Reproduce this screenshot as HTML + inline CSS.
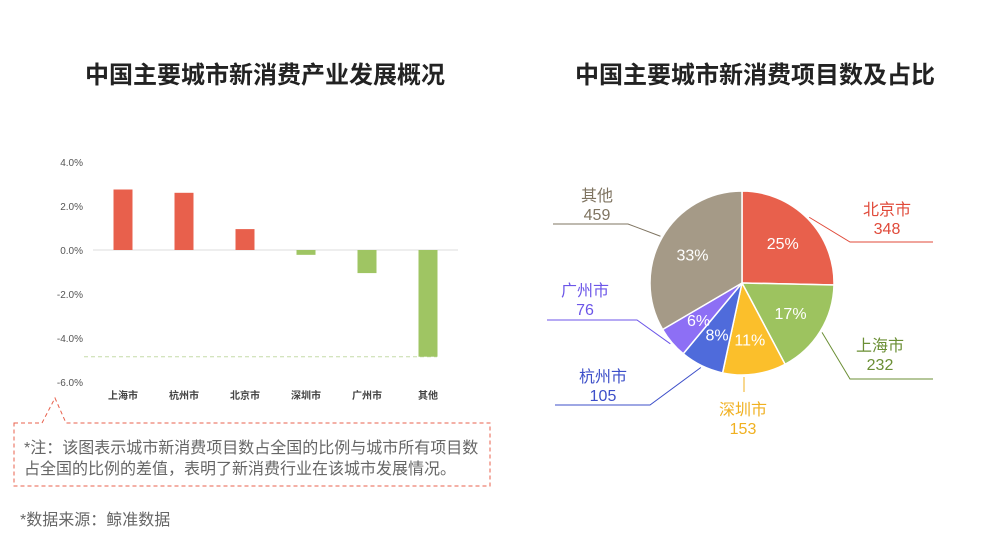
<!DOCTYPE html>
<html><head><meta charset="utf-8"><style>
body{margin:0;background:#fff;font-family:"Liberation Sans","Noto Sans CJK SC",sans-serif;}
#wrap{position:relative;width:1000px;height:543px;overflow:hidden;}
svg{position:absolute;left:0;top:0;}
</style></head><body>
<div id="wrap">
<svg id="s" width="1000" height="543">
<text x="265" y="83" text-anchor="middle" font-size="24" font-weight="bold" fill="#222">中国主要城市新消费产业发展概况</text>
<text x="755" y="83" text-anchor="middle" font-size="24" font-weight="bold" fill="#222">中国主要城市新消费项目数及占比</text>
<g id="bars"></g>
<g id="pie"></g>
<path d="M14 423 H42 L55 398 L66 423 H490 V486 H14 Z" fill="none" stroke="#e8604c" stroke-dasharray="4,3" stroke-width="1"/>
<text x="24" y="453" font-size="16" fill="#666">*注：该图表示城市新消费项目数占全国的比例与城市所有项目数</text>
<text x="24" y="474" font-size="16" fill="#666">占全国的比例的差值，表明了新消费行业在该城市发展情况。</text>
<text x="20" y="525" font-size="16" fill="#666">*数据来源：鲸准数据</text>
</svg>
</div>
<script>
const barCats=["上海市","杭州市","北京市","深圳市","广州市","其他"];
const barVals=[2.75,2.6,0.95,-0.22,-1.05,-4.85];
const yTicks=[4,2,0,-2,-4,-6];
const pieCats=["北京市","上海市","深圳市","杭州市","广州市","其他"];
const pieVals=[348,232,153,105,76,459];

const NS="http://www.w3.org/2000/svg";
function mk(tag,attrs,parent,txt){const e=document.createElementNS(NS,tag);for(const k in attrs)e.setAttribute(k,attrs[k]);if(txt!==undefined)e.textContent=txt;parent.appendChild(e);return e;}
const bg=document.getElementById('bars');
const y=v=>250-v*22;
const x=i=>123+i*61;
yTicks.forEach(t=>{const e=mk('text',{x:83,y:y(t)+4,'text-anchor':'end','font-size':10,fill:'#555'},bg,t.toFixed(1)+'%');

});
const ax=mk('line',{x1:93,x2:458,y1:y(0),y2:y(0),stroke:'#ddd','stroke-width':1},bg);


const minV=Math.min(...barVals);
const ref=mk('line',{x1:84,x2:x(barVals.indexOf(minV))+9,y1:y(minV),y2:y(minV),stroke:'#c5dca8','stroke-dasharray':'4,3'},bg);


barCats.forEach((c,i)=>{const v=barVals[i];
const r=mk('rect',{x:x(i)-9.5,y:Math.min(y(v),y(0)),width:19,height:Math.abs(y(v)-y(0)),fill:v>=0?'#e8604c':'#9fc563'},bg);


const t=mk('text',{x:x(i),y:399,'text-anchor':'middle','font-size':10,fill:'#444','font-weight':'bold'},bg,c);

});
const pg=document.getElementById('pie');
const cx=742,cy=283,R=92;
const cols=["#e8604c","#9dc35f","#fbbf2b","#4f6bdb","#8d6ff5","#a59a87"];
const lcols=["#e04a3a","#6b8f35","#f0b020","#3d4fc9","#6c56e8","#7f7461"];
const labelPos=[[887,215],[880,351],[743,415],[603,382],[585,296],[597,201]];
const leaders=[[[850,242],[933,242]],[[850,379],[933,379]],[[744,392],[744,392]],[[650,405],[555,405]],[[637,320],[547,320]],[[628,224],[553,224]]];
const tot=pieVals.reduce((a,b)=>a+b,0);
let a0=-Math.PI/2;
pieVals.forEach((v,i)=>{const a1=a0+v/tot*2*Math.PI;
const p=(a)=>[cx+R*Math.cos(a),cy+R*Math.sin(a)];
const [x0,y0]=p(a0),[x1,y1]=p(a1);
const s=mk('path',{d:`M${cx} ${cy} L${x0} ${y0} A${R} ${R} 0 ${a1-a0>Math.PI?1:0} 1 ${x1} ${y1} Z`,fill:cols[i],stroke:'#fff','stroke-width':1.5},pg);


const am=(a0+a1)/2,rr=R*0.62;
const pct=mk('text',{x:cx+rr*Math.cos(am),y:cy+rr*Math.sin(am)+6,'text-anchor':'middle','font-size':16,fill:'#fff'},pg,Math.round(v/tot*100)+'%');


let ex=cx+(R+2)*Math.cos(am),ey=cy+(R+2)*Math.sin(am);
const L=leaders[i];
if(L[0][0]===L[1][0]&&L[0][1]===L[1][1]){ex=L[0][0];ey=cy+Math.sqrt(Math.max(0,(R+2)*(R+2)-(ex-cx)*(ex-cx)));}
const pl=mk('polyline',{points:`${ex},${ey} ${L[0][0]},${L[0][1]} ${L[1][0]},${L[1][1]}`,fill:'none',stroke:lcols[i],'stroke-width':1},pg);


const [lx,ly]=labelPos[i];
const n=mk('text',{x:lx,y:ly,'text-anchor':'middle','font-size':16,fill:lcols[i]},pg,pieCats[i]);


const nv=mk('text',{x:lx,y:ly+19,'text-anchor':'middle','font-size':16,fill:lcols[i]},pg,v);


a0=a1;});
</script>
</body></html>
